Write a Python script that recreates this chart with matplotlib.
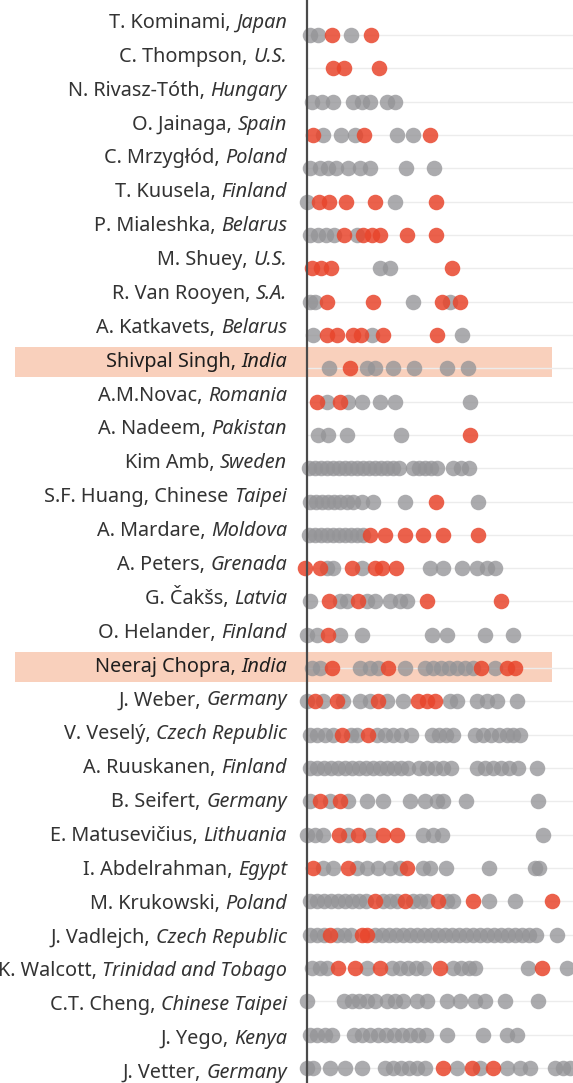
import matplotlib
import matplotlib.pyplot as plt
from matplotlib.patches import Rectangle

matplotlib.use('Agg')

# Rótulos: parte normal e parte em itálico (país)
plain_parts = [
    "T. Kominami,", "C. Thompson,", "N. Rivasz-Tóth,", "O. Jainaga,", "C. Mrzygłód,",
    "T. Kuusela,", "P. Mialeshka,", "M. Shuey,", "R. Van Rooyen,", "A. Katkavets,",
    "Shivpal Singh,", "A.M.Novac,", "A. Nadeem,", "Kim Amb,", "S.F. Huang, Chinese",
    "A. Mardare,", "A. Peters,", "G. Čakšs,", "O. Helander,", "Neeraj Chopra,",
    "J. Weber,", "V. Veselý,", "A. Ruuskanen,", "B. Seifert,", "E. Matusevičius,",
    "I. Abdelrahman,", "M. Krukowski,", "J. Vadlejch,", "K. Walcott,", "C.T. Cheng,",
    "J. Yego,", "J. Vetter,",
]
italic_parts = [
    "Japan", "U.S.", "Hungary", "Spain", "Poland",
    "Finland", "Belarus", "U.S.", "S.A.", "Belarus",
    "India", "Romania", "Pakistan", "Sweden", "Taipei",
    "Moldova", "Grenada", "Latvia", "Finland", "India",
    "Germany", "Czech Republic", "Finland", "Germany", "Lithuania",
    "Egypt", "Poland", "Czech Republic", "Trinidad and Tobago", "Chinese Taipei",
    "Kenya", "Germany",
]
highlighted = ["Shivpal Singh,", "Neeraj Chopra,"]

# Valores (unidade arbitrária, 0 = eixo vertical)
grey_throws = [
    [3, 11, 44],
    [],
    [5, 15, 26, 46, 55, 63, 80, 88],
    [16, 34, 48, 90, 106],
    [3, 13, 21, 29, 41, 53, 63, 99, 127],
    [0, 88],
    [3, 11, 19, 27, 50],
    [73, 83],
    [3, 8, 143, 106],
    [6, 65, 155],
    [22, 60, 68, 86, 107, 140, 161],
    [20, 41, 55, 73, 88, 163],
    [11, 21, 40, 94],
    [2, 8, 14, 20, 26, 32, 38, 44, 50, 56, 62, 68, 74, 80, 86, 92,
     106, 112, 118, 124, 130, 146, 154, 162],
    [3, 9, 15, 21, 27, 33, 40, 46, 55, 66, 98, 171],
    [2, 8, 14, 20, 26, 32, 38, 44, 50, 56],
    [20, 26, 55, 123, 136, 155, 170, 180, 188],
    [3, 33, 40, 60, 68, 83, 93, 100],
    [0, 10, 33, 55, 125, 140, 178, 206],
    [5, 13, 53, 63, 71, 98, 118, 126, 134, 142, 150, 158, 166, 188],
    [0, 16, 36, 53, 63, 80, 96, 143, 150, 170, 180, 190, 210],
    [3, 10, 18, 26, 44, 50, 70, 78, 86, 94, 104,
     125, 132, 139, 146, 168, 176, 184, 192, 200, 206, 213],
    [3, 10, 17, 24, 31, 38, 45, 52, 59, 66, 73, 80, 87, 94, 101,
     112, 120, 128, 136, 144, 170, 178, 186, 194, 202, 211, 230],
    [3, 23, 41, 60, 76, 103, 118, 130, 136, 159, 231],
    [0, 8, 16, 41, 63, 116, 126, 135, 236],
    [16, 26, 50, 60, 71, 83, 93, 116, 123, 139, 182, 228, 232],
    [3, 10, 17, 24, 31, 38, 45, 52, 59, 76, 83, 90, 106, 113, 120,
     140, 146, 182, 208],
    [3, 10, 17, 30, 37, 44, 68, 75, 82, 89, 96, 103, 110, 117, 124,
     131, 138, 145, 152, 159, 166, 173, 180, 187, 194, 201, 208, 215, 222, 229, 250],
    [5, 13, 20, 60, 85, 93, 101, 109, 117, 146, 154, 162, 168, 221, 260],
    [0, 37, 45, 52, 60, 68, 80, 88, 96, 110, 120, 140, 153, 168, 178, 198, 231],
    [3, 10, 18, 25, 47, 55, 63, 71, 79, 87, 95, 103, 111, 119, 140, 176, 200, 210],
    [0, 6, 23, 38, 55, 78, 86, 94, 102, 110, 118, 150, 173, 200, 213, 223,
     248, 256, 263],
]
red_throws = [
    [25, 64],
    [26, 37, 72],
    [],
    [6, 57, 123],
    [],
    [12, 22, 39, 68, 129],
    [37, 56, 65, 73, 100, 129],
    [5, 14, 24, 145],
    [20, 66, 135, 153],
    [20, 30, 46, 54, 76, 130],
    [43],
    [10, 33],
    [163],
    [],
    [129],
    [63, 78, 98, 116, 136, 171],
    [-2, 13, 45, 68, 75, 89],
    [22, 51, 120, 194],
    [21],
    [25, 81, 174, 200, 208],
    [8, 30, 71, 111, 120, 128],
    [35, 61],
    [],
    [13, 33],
    [32, 51, 76, 90],
    [6, 41, 100],
    [68, 98, 131, 166, 245],
    [23, 55, 60],
    [31, 48, 73, 133, 235],
    [],
    [],
    [136, 165, 186],
]

GREY = '#949497'
RED = '#e8452c'
BAND = '#f9d0bc'

fig = plt.figure(figsize=(5.73, 10.83), dpi=100)
ax = fig.add_axes([0, 0, 1, 1])
n = len(plain_parts)
ax.set_xlim(-307, 266)
ax.set_ylim(n - 1 + 0.45, -1.05)
ax.axis('off')

# linhas de grade horizontais
ax.hlines(range(n), 0, 266, color='#ececec', lw=1, zorder=1)

for i in range(n):
    y_lab = -0.36 + 1.0165 * i
    is_hi = plain_parts[i] in highlighted
    if is_hi:
        ax.add_patch(Rectangle((-292, y_lab - 0.45), 537, 0.9, color=BAND,
                               lw=0, zorder=0))
    weight = 'bold' if is_hi else 'normal'
    col = '#1e1e1e' if is_hi else '#333333'
    it = ax.text(-20, y_lab, italic_parts[i], ha='right', va='center',
                 fontsize=14.3, style='italic', weight=weight, color=col,
                 family='Noto Sans')
    ax.annotate(plain_parts[i], xy=(0, 0), xycoords=it, xytext=(-4, 0),
                textcoords='offset points', ha='right', va='bottom',
                fontsize=14.3, weight=weight, color=col, family='Noto Sans')

    g = grey_throws[i]
    r = red_throws[i]
    ax.scatter(g, [i] * len(g), s=125, color=GREY, alpha=0.78, lw=0,
               zorder=3, clip_on=False)
    ax.scatter(r, [i] * len(r), s=125, color=RED, alpha=0.85, lw=0,
               zorder=4, clip_on=False)

# eixo vertical
ax.axvline(0, color='#4a4a4a', lw=1.6, zorder=5)

plt.savefig('out.png', dpi=100)
